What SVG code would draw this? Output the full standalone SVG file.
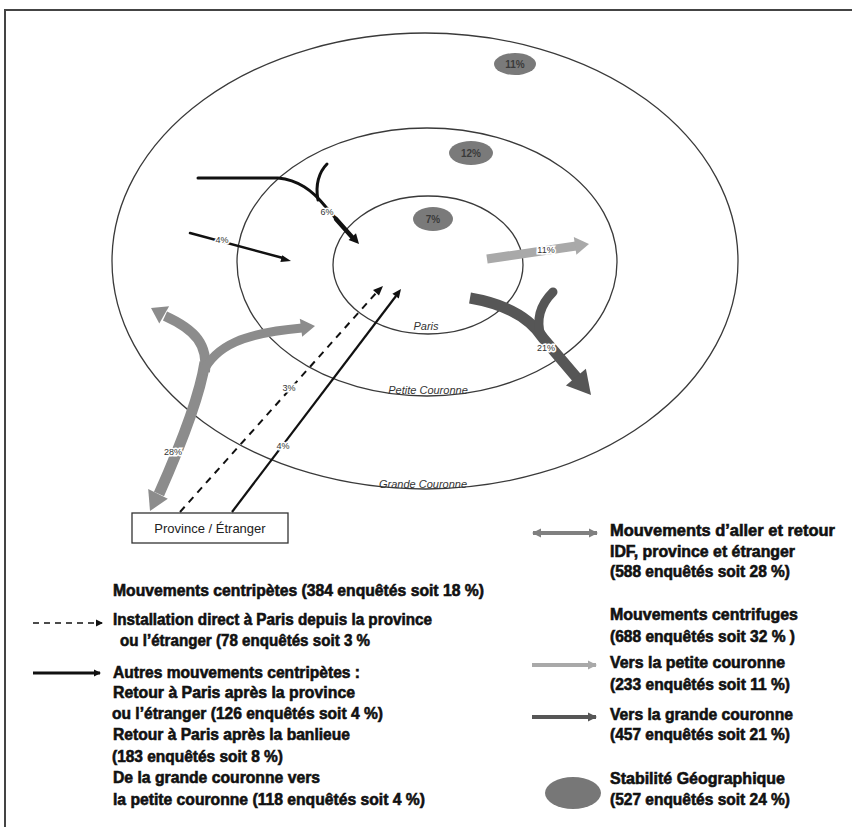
<svg xmlns="http://www.w3.org/2000/svg" width="852" height="827" viewBox="0 0 852 827">
<style>
.ring{fill:none;stroke:#3a3a3a;stroke-width:1.3}
.stab{fill:#7a7a7a}
.pct{font-family:"Liberation Sans",Arial,sans-serif;font-size:10px;font-weight:bold;fill:#3a3a3a;text-anchor:middle}
.lab{font-family:"Liberation Sans",Arial,sans-serif;font-size:9px;fill:#333;text-anchor:middle;stroke:#fff;stroke-width:3;paint-order:stroke}
.zone{font-family:"Liberation Sans",Arial,sans-serif;font-size:11px;font-style:italic;fill:#333;text-anchor:middle}
.leg{font-family:"Liberation Sans",Arial,sans-serif;font-size:16px;font-weight:bold;fill:#111;stroke:#111;stroke-width:0.6}
.blk{fill:none;stroke:#111;stroke-linecap:round}
.lg{fill:none;stroke:#a9a9a9}
.dg{fill:none;stroke:#565656}
.mg{fill:none;stroke:#8c8c8c}
</style>
<defs>
<marker id="ahB" markerWidth="8" markerHeight="8" refX="6" refY="4" orient="auto" markerUnits="userSpaceOnUse"><path d="M0,0.5 L7,4 L0,7.5 Z" fill="#111"/></marker>
<marker id="ahLG" markerWidth="10" markerHeight="10" refX="8" refY="5" orient="auto" markerUnits="userSpaceOnUse"><path d="M0,0.5 L9,5 L0,9.5 Z" fill="#a9a9a9"/></marker>
<marker id="ahDG" markerWidth="10" markerHeight="10" refX="8" refY="5" orient="auto" markerUnits="userSpaceOnUse"><path d="M0,0.5 L9,5 L0,9.5 Z" fill="#565656"/></marker>
<marker id="ahMG" markerWidth="10" markerHeight="10" refX="8" refY="5" orient="auto-start-reverse" markerUnits="userSpaceOnUse"><path d="M0,0.5 L9,5 L0,9.5 Z" fill="#808080"/></marker>
</defs>
<rect width="852" height="827" fill="#fff"/>
<path d="M5,827 V10 H852" fill="none" stroke="#444" stroke-width="2"/>

<g id="zones">
<g id="grande-couronne"><ellipse class="ring" cx="425" cy="261" rx="313" ry="228"/><text class="zone" x="423" y="488">Grande Couronne</text></g>
<g id="petite-couronne"><ellipse class="ring" cx="427" cy="262" rx="190" ry="134"/><text class="zone" x="428" y="394">Petite Couronne</text></g>
<g id="paris"><ellipse class="ring" cx="428" cy="265" rx="95" ry="69"/><text class="zone" x="426" y="330">Paris</text></g>
</g>

<g id="stabilite">
<g id="stab-gc"><ellipse class="stab" cx="515" cy="64" rx="21" ry="11"/><text class="pct" x="515" y="68">11%</text></g>
<g id="stab-pc"><ellipse class="stab" cx="471" cy="153" rx="22" ry="12"/><text class="pct" x="471" y="157">12%</text></g>
<g id="stab-paris"><ellipse class="stab" cx="433" cy="219" rx="20" ry="12"/><text class="pct" x="433" y="223">7%</text></g>
</g>

<g id="province"><rect x="132" y="513" width="156" height="30" fill="#fff" stroke="#333" stroke-width="1.3"/><text x="210" y="533" text-anchor="middle" font-family="Liberation Sans, Arial, sans-serif" font-size="13" fill="#222">Province / Étranger</text></g>

<g id="connectors">
<path class="blk" stroke-width="3" d="M198,178 H278 C298,180 312,190 325,206 L338,221"/>
<path class="blk" stroke-width="3" d="M318,200 C315,185 319,172 327,164"/>
<path class="blk" stroke-width="4.5" d="M336,219 L352,237"/>
<polygon points="359,244 348.6,240 356,233.2" fill="#111"/>
<text class="lab" x="327" y="215">6%</text>

<path class="blk" stroke-width="2.5" d="M190,233 L283,258"/>
<polygon points="291,261 280.4,262 282.2,255.2" fill="#111"/>
<text class="lab" x="222" y="243">4%</text>

<path class="lg" stroke-width="9" d="M487,259 L576,246"/>
<polygon points="589,244 576.4,254.8 573.8,237" fill="#a9a9a9"/>
<text class="lab" x="546" y="253">11%</text>

<path class="dg" stroke-width="11" d="M470,298 C505,304 530,318 543,338 L577,378"/>
<path class="dg" stroke-width="9" stroke-linecap="round" d="M553,292 C540,305 536,320 541,336"/>
<polygon points="591,395 565.9,385.4 585.9,368.8" fill="#565656"/>
<text class="lab" x="546" y="351">21%</text>

<path class="mg" stroke-width="11" d="M205,362 C200,395 183,440 159,494"/>
<polygon points="150,511 167.8,498.8 148.2,489" fill="#8c8c8c"/>
<path class="mg" stroke-width="10" d="M205,372 C208,345 196,330 165,316"/>
<polygon points="151,308 169.1,306.2 159.3,323.6" fill="#8c8c8c"/>
<path class="mg" stroke-width="9" d="M202,374 C215,345 245,333 302,328"/>
<polygon points="315,326 302.2,336.8 299.8,318.8" fill="#8c8c8c"/>
<text class="lab" x="173" y="455">28%</text>

<path fill="none" stroke="#111" stroke-width="2" stroke-dasharray="7,6" d="M180,512 L377,292"/>
<polygon points="383,286 379,295.4 373,290" fill="#111"/>
<text class="lab" x="289" y="391">3%</text>

<path fill="none" stroke="#111" stroke-width="2.2" d="M232,512 L396,296"/>
<polygon points="401,289 398.8,298.6 392.4,293.8" fill="#111"/>
<text class="lab" x="283" y="449">4%</text>
</g>

<g id="legend-left">
<text class="leg" x="113" y="596" textLength="371" lengthAdjust="spacingAndGlyphs">Mouvements centripètes (384 enquêtés soit 18 %)</text>
<path d="M33,623 L102,623" fill="none" stroke="#111" stroke-width="1.5" stroke-dasharray="6,5" marker-end="url(#ahB)"/>
<text class="leg" x="113" y="625" textLength="319" lengthAdjust="spacingAndGlyphs">Installation direct à Paris depuis la province</text>
<text class="leg" x="120" y="646" textLength="250" lengthAdjust="spacingAndGlyphs">ou l’étranger (78 enquêtés soit 3 %</text>
<path d="M33,673 L100,673" fill="none" stroke="#111" stroke-width="3" marker-end="url(#ahB)"/>
<text class="leg" x="113" y="678" textLength="247" lengthAdjust="spacingAndGlyphs">Autres mouvements centripètes :</text>
<text class="leg" x="113" y="698" textLength="242" lengthAdjust="spacingAndGlyphs">Retour à Paris après  la province</text>
<text class="leg" x="112" y="719" textLength="271" lengthAdjust="spacingAndGlyphs">ou l’étranger (126 enquêtés soit 4 %)</text>
<text class="leg" x="113" y="740" textLength="237" lengthAdjust="spacingAndGlyphs">Retour à Paris après la banlieue</text>
<text class="leg" x="112" y="762" textLength="171" lengthAdjust="spacingAndGlyphs">(183 enquêtés soit 8 %)</text>
<text class="leg" x="113" y="783" textLength="207" lengthAdjust="spacingAndGlyphs">De la grande couronne vers</text>
<text class="leg" x="113" y="805" textLength="312" lengthAdjust="spacingAndGlyphs">la petite couronne (118 enquêtés soit 4 %)</text>
</g>

<g id="legend-right">
<path d="M533,533 L597,533" fill="none" stroke="#808080" stroke-width="4" marker-start="url(#ahMG)" marker-end="url(#ahMG)"/>
<text class="leg" x="610" y="536" textLength="225" lengthAdjust="spacingAndGlyphs">Mouvements d’aller et retour</text>
<text class="leg" x="610" y="557" textLength="185" lengthAdjust="spacingAndGlyphs">IDF, province et étranger</text>
<text class="leg" x="610" y="577" textLength="180" lengthAdjust="spacingAndGlyphs">(588 enquêtés soit 28 %)</text>
<text class="leg" x="610" y="620" textLength="188" lengthAdjust="spacingAndGlyphs">Mouvements centrifuges</text>
<text class="leg" x="610" y="642" textLength="185" lengthAdjust="spacingAndGlyphs">(688 enquêtés soit 32 % )</text>
<path d="M532,665 L596,665" fill="none" stroke="#a9a9a9" stroke-width="4" marker-end="url(#ahLG)"/>
<text class="leg" x="610" y="668" textLength="175" lengthAdjust="spacingAndGlyphs">Vers la petite couronne</text>
<text class="leg" x="610" y="690" textLength="180" lengthAdjust="spacingAndGlyphs">(233 enquêtés soit 11 %)</text>
<path d="M532,717 L596,717" fill="none" stroke="#565656" stroke-width="4" marker-end="url(#ahDG)"/>
<text class="leg" x="610" y="720" textLength="183" lengthAdjust="spacingAndGlyphs">Vers la grande couronne</text>
<text class="leg" x="610" y="740" textLength="180" lengthAdjust="spacingAndGlyphs">(457 enquêtés soit 21 %)</text>
<ellipse cx="573" cy="793" rx="28" ry="16" fill="#777"/>
<text class="leg" x="610" y="784" textLength="175" lengthAdjust="spacingAndGlyphs">Stabilité Géographique</text>
<text class="leg" x="610" y="805" textLength="180" lengthAdjust="spacingAndGlyphs">(527 enquêtés soit 24 %)</text>
</g>
</svg>
